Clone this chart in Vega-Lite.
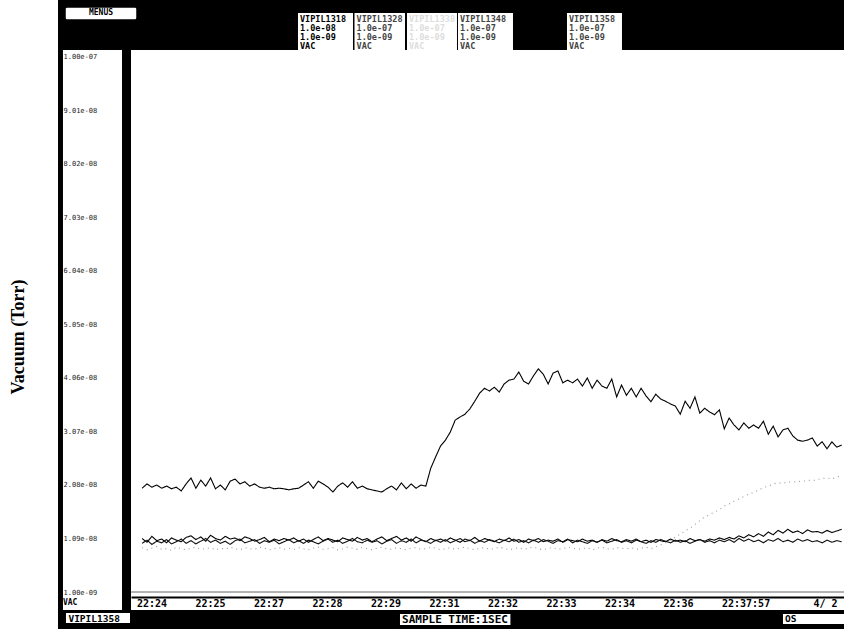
{
  "$schema": "https://vega.github.io/schema/vega-lite/v6.json",
  "width": 713,
  "height": 546,
  "autosize": "none",
  "padding": {"left": 131, "top": 50, "right": 0, "bottom": 33},
  "background": "white",
  "config": {"view": {"stroke": null}, "axis": {"grid": false}},
  "datasets": {
    "traces": [
      {"t":8,"VIPIL1358":2.02e-8,"VIPIL1318":1.09e-8,"VIPIL1328":1.00e-8,"VIPIL1348":9.2e-9},
      {"t":15,"VIPIL1358":2.10e-8,"VIPIL1318":1.02e-8,"VIPIL1328":1.06e-8,"VIPIL1348":8.8e-9},
      {"t":22,"VIPIL1358":2.04e-8,"VIPIL1318":1.13e-8,"VIPIL1328":9.8e-9,"VIPIL1348":9.1e-9},
      {"t":29,"VIPIL1358":2.08e-8,"VIPIL1318":1.05e-8,"VIPIL1328":1.04e-8,"VIPIL1348":9.4e-9},
      {"t":36,"VIPIL1358":2.02e-8,"VIPIL1318":1.08e-8,"VIPIL1328":1.01e-8,"VIPIL1348":8.9e-9},
      {"t":43,"VIPIL1358":2.06e-8,"VIPIL1318":1.01e-8,"VIPIL1328":1.07e-8,"VIPIL1348":9.0e-9},
      {"t":50,"VIPIL1358":2.01e-8,"VIPIL1318":1.10e-8,"VIPIL1328":9.9e-9,"VIPIL1348":8.7e-9},
      {"t":57,"VIPIL1358":2.04e-8,"VIPIL1318":1.06e-8,"VIPIL1328":1.03e-8,"VIPIL1348":9.3e-9},
      {"t":64,"VIPIL1358":1.97e-8,"VIPIL1318":1.03e-8,"VIPIL1328":1.08e-8,"VIPIL1348":9.0e-9},
      {"t":71,"VIPIL1358":2.10e-8,"VIPIL1318":1.11e-8,"VIPIL1328":1.00e-8,"VIPIL1348":8.8e-9},
      {"t":78,"VIPIL1358":2.21e-8,"VIPIL1318":1.14e-8,"VIPIL1328":1.05e-8,"VIPIL1348":9.1e-9},
      {"t":85,"VIPIL1358":2.02e-8,"VIPIL1318":1.07e-8,"VIPIL1328":9.9e-9,"VIPIL1348":9.3e-9},
      {"t":92,"VIPIL1358":2.17e-8,"VIPIL1318":1.12e-8,"VIPIL1328":1.04e-8,"VIPIL1348":8.9e-9},
      {"t":99,"VIPIL1358":2.06e-8,"VIPIL1318":1.04e-8,"VIPIL1328":1.09e-8,"VIPIL1348":9.0e-9},
      {"t":106,"VIPIL1358":2.21e-8,"VIPIL1318":1.15e-8,"VIPIL1328":1.02e-8,"VIPIL1348":9.2e-9},
      {"t":113,"VIPIL1358":2.01e-8,"VIPIL1318":1.09e-8,"VIPIL1328":1.06e-8,"VIPIL1348":8.8e-9},
      {"t":120,"VIPIL1358":2.08e-8,"VIPIL1318":1.06e-8,"VIPIL1328":1.00e-8,"VIPIL1348":9.1e-9},
      {"t":127,"VIPIL1358":1.99e-8,"VIPIL1318":1.13e-8,"VIPIL1328":1.04e-8,"VIPIL1348":8.9e-9},
      {"t":134,"VIPIL1358":2.15e-8,"VIPIL1318":1.08e-8,"VIPIL1328":9.8e-9,"VIPIL1348":9.3e-9},
      {"t":141,"VIPIL1358":2.19e-8,"VIPIL1318":1.10e-8,"VIPIL1328":1.05e-8,"VIPIL1348":9.0e-9},
      {"t":148,"VIPIL1358":2.10e-8,"VIPIL1318":1.05e-8,"VIPIL1328":1.08e-8,"VIPIL1348":8.8e-9},
      {"t":155,"VIPIL1358":2.14e-8,"VIPIL1318":1.12e-8,"VIPIL1328":1.01e-8,"VIPIL1348":9.2e-9},
      {"t":162,"VIPIL1358":2.06e-8,"VIPIL1318":1.09e-8,"VIPIL1328":1.04e-8,"VIPIL1348":9.0e-9},
      {"t":169,"VIPIL1358":2.10e-8,"VIPIL1318":1.04e-8,"VIPIL1328":1.07e-8,"VIPIL1348":8.9e-9},
      {"t":176,"VIPIL1358":2.04e-8,"VIPIL1318":1.07e-8,"VIPIL1328":1.00e-8,"VIPIL1348":9.3e-9},
      {"t":183,"VIPIL1358":2.02e-8,"VIPIL1318":1.11e-8,"VIPIL1328":1.05e-8,"VIPIL1348":9.1e-9},
      {"t":190,"VIPIL1358":2.04e-8,"VIPIL1318":1.03e-8,"VIPIL1328":1.02e-8,"VIPIL1348":8.8e-9},
      {"t":197,"VIPIL1358":2.01e-8,"VIPIL1318":1.08e-8,"VIPIL1328":1.06e-8,"VIPIL1348":9.0e-9},
      {"t":204,"VIPIL1358":2.02e-8,"VIPIL1318":1.05e-8,"VIPIL1328":9.9e-9,"VIPIL1348":9.2e-9},
      {"t":211,"VIPIL1358":2.01e-8,"VIPIL1318":1.09e-8,"VIPIL1328":1.03e-8,"VIPIL1348":8.9e-9},
      {"t":218,"VIPIL1358":1.99e-8,"VIPIL1318":1.06e-8,"VIPIL1328":1.07e-8,"VIPIL1348":9.1e-9},
      {"t":225,"VIPIL1358":2.01e-8,"VIPIL1318":1.10e-8,"VIPIL1328":1.01e-8,"VIPIL1348":8.9e-9},
      {"t":232,"VIPIL1358":2.02e-8,"VIPIL1318":1.04e-8,"VIPIL1328":1.05e-8,"VIPIL1348":9.2e-9},
      {"t":239,"VIPIL1358":2.08e-8,"VIPIL1318":1.08e-8,"VIPIL1328":1.00e-8,"VIPIL1348":9.0e-9},
      {"t":246,"VIPIL1358":2.14e-8,"VIPIL1318":1.02e-8,"VIPIL1328":1.06e-8,"VIPIL1348":8.8e-9},
      {"t":253,"VIPIL1358":2.02e-8,"VIPIL1318":1.07e-8,"VIPIL1328":1.03e-8,"VIPIL1348":9.1e-9},
      {"t":260,"VIPIL1358":2.15e-8,"VIPIL1318":1.12e-8,"VIPIL1328":9.9e-9,"VIPIL1348":9.3e-9},
      {"t":267,"VIPIL1358":2.10e-8,"VIPIL1318":1.05e-8,"VIPIL1328":1.04e-8,"VIPIL1348":8.9e-9},
      {"t":274,"VIPIL1358":2.04e-8,"VIPIL1318":1.09e-8,"VIPIL1328":1.08e-8,"VIPIL1348":9.0e-9},
      {"t":281,"VIPIL1358":1.95e-8,"VIPIL1318":1.06e-8,"VIPIL1328":1.02e-8,"VIPIL1348":9.2e-9},
      {"t":288,"VIPIL1358":2.06e-8,"VIPIL1318":1.03e-8,"VIPIL1328":1.06e-8,"VIPIL1348":8.8e-9},
      {"t":295,"VIPIL1358":2.12e-8,"VIPIL1318":1.10e-8,"VIPIL1328":1.00e-8,"VIPIL1348":9.0e-9},
      {"t":302,"VIPIL1358":2.04e-8,"VIPIL1318":1.07e-8,"VIPIL1328":1.04e-8,"VIPIL1348":9.3e-9},
      {"t":309,"VIPIL1358":2.14e-8,"VIPIL1318":1.04e-8,"VIPIL1328":1.09e-8,"VIPIL1348":9.1e-9},
      {"t":316,"VIPIL1358":2.02e-8,"VIPIL1318":1.11e-8,"VIPIL1328":1.03e-8,"VIPIL1348":8.9e-9},
      {"t":323,"VIPIL1358":2.06e-8,"VIPIL1318":1.06e-8,"VIPIL1328":1.01e-8,"VIPIL1348":9.2e-9},
      {"t":330,"VIPIL1358":2.01e-8,"VIPIL1318":1.09e-8,"VIPIL1328":1.06e-8,"VIPIL1348":9.0e-9},
      {"t":337,"VIPIL1358":1.99e-8,"VIPIL1318":1.03e-8,"VIPIL1328":1.02e-8,"VIPIL1348":8.8e-9},
      {"t":344,"VIPIL1358":1.97e-8,"VIPIL1318":1.08e-8,"VIPIL1328":1.05e-8,"VIPIL1348":9.1e-9},
      {"t":351,"VIPIL1358":1.95e-8,"VIPIL1318":1.12e-8,"VIPIL1328":9.9e-9,"VIPIL1348":9.3e-9},
      {"t":358,"VIPIL1358":2.01e-8,"VIPIL1318":1.05e-8,"VIPIL1328":1.04e-8,"VIPIL1348":9.0e-9},
      {"t":365,"VIPIL1358":2.06e-8,"VIPIL1318":1.09e-8,"VIPIL1328":1.07e-8,"VIPIL1348":8.9e-9},
      {"t":372,"VIPIL1358":1.99e-8,"VIPIL1318":1.13e-8,"VIPIL1328":1.00e-8,"VIPIL1348":9.2e-9},
      {"t":379,"VIPIL1358":2.12e-8,"VIPIL1318":1.06e-8,"VIPIL1328":1.05e-8,"VIPIL1348":9.0e-9},
      {"t":386,"VIPIL1358":2.01e-8,"VIPIL1318":1.10e-8,"VIPIL1328":1.02e-8,"VIPIL1348":8.8e-9},
      {"t":393,"VIPIL1358":2.10e-8,"VIPIL1318":1.04e-8,"VIPIL1328":1.08e-8,"VIPIL1348":9.1e-9},
      {"t":400,"VIPIL1358":2.02e-8,"VIPIL1318":1.12e-8,"VIPIL1328":1.01e-8,"VIPIL1348":9.2e-9},
      {"t":407,"VIPIL1358":2.08e-8,"VIPIL1318":1.07e-8,"VIPIL1328":1.06e-8,"VIPIL1348":8.9e-9},
      {"t":414,"VIPIL1358":2.06e-8,"VIPIL1318":1.03e-8,"VIPIL1328":1.04e-8,"VIPIL1348":9.0e-9},
      {"t":421,"VIPIL1358":2.39e-8,"VIPIL1318":1.09e-8,"VIPIL1328":1.00e-8,"VIPIL1348":9.3e-9},
      {"t":428,"VIPIL1358":2.60e-8,"VIPIL1318":1.05e-8,"VIPIL1328":1.06e-8,"VIPIL1348":9.1e-9},
      {"t":435,"VIPIL1358":2.80e-8,"VIPIL1318":1.08e-8,"VIPIL1328":1.02e-8,"VIPIL1348":8.8e-9},
      {"t":442,"VIPIL1358":2.91e-8,"VIPIL1318":1.04e-8,"VIPIL1328":1.07e-8,"VIPIL1348":9.0e-9},
      {"t":449,"VIPIL1358":3.06e-8,"VIPIL1318":1.10e-8,"VIPIL1328":1.01e-8,"VIPIL1348":9.2e-9},
      {"t":456,"VIPIL1358":3.28e-8,"VIPIL1318":1.06e-8,"VIPIL1328":1.05e-8,"VIPIL1348":8.9e-9},
      {"t":463,"VIPIL1358":3.34e-8,"VIPIL1318":1.02e-8,"VIPIL1328":1.09e-8,"VIPIL1348":9.1e-9},
      {"t":470,"VIPIL1358":3.39e-8,"VIPIL1318":1.08e-8,"VIPIL1328":1.03e-8,"VIPIL1348":9.3e-9},
      {"t":477,"VIPIL1358":3.49e-8,"VIPIL1318":1.05e-8,"VIPIL1328":1.06e-8,"VIPIL1348":9.0e-9},
      {"t":484,"VIPIL1358":3.63e-8,"VIPIL1318":1.11e-8,"VIPIL1328":1.00e-8,"VIPIL1348":8.8e-9},
      {"t":491,"VIPIL1358":3.78e-8,"VIPIL1318":1.04e-8,"VIPIL1328":1.05e-8,"VIPIL1348":9.1e-9},
      {"t":498,"VIPIL1358":3.87e-8,"VIPIL1318":1.09e-8,"VIPIL1328":1.02e-8,"VIPIL1348":9.2e-9},
      {"t":505,"VIPIL1358":3.82e-8,"VIPIL1318":1.06e-8,"VIPIL1328":1.07e-8,"VIPIL1348":8.9e-9},
      {"t":512,"VIPIL1358":3.89e-8,"VIPIL1318":1.03e-8,"VIPIL1328":1.04e-8,"VIPIL1348":9.0e-9},
      {"t":519,"VIPIL1358":3.80e-8,"VIPIL1318":1.08e-8,"VIPIL1328":1.01e-8,"VIPIL1348":9.3e-9},
      {"t":526,"VIPIL1358":3.95e-8,"VIPIL1318":1.05e-8,"VIPIL1328":1.06e-8,"VIPIL1348":9.1e-9},
      {"t":533,"VIPIL1358":4.02e-8,"VIPIL1318":1.10e-8,"VIPIL1328":1.03e-8,"VIPIL1348":8.8e-9},
      {"t":540,"VIPIL1358":4.04e-8,"VIPIL1318":1.04e-8,"VIPIL1328":1.08e-8,"VIPIL1348":9.0e-9},
      {"t":547,"VIPIL1358":4.17e-8,"VIPIL1318":1.07e-8,"VIPIL1328":1.02e-8,"VIPIL1348":9.2e-9},
      {"t":554,"VIPIL1358":4.00e-8,"VIPIL1318":1.02e-8,"VIPIL1328":1.05e-8,"VIPIL1348":8.9e-9},
      {"t":561,"VIPIL1358":3.95e-8,"VIPIL1318":1.08e-8,"VIPIL1328":1.01e-8,"VIPIL1348":9.1e-9},
      {"t":568,"VIPIL1358":4.10e-8,"VIPIL1318":1.05e-8,"VIPIL1328":1.06e-8,"VIPIL1348":9.3e-9},
      {"t":575,"VIPIL1358":4.23e-8,"VIPIL1318":1.09e-8,"VIPIL1328":1.02e-8,"VIPIL1348":9.0e-9},
      {"t":582,"VIPIL1358":4.13e-8,"VIPIL1318":1.03e-8,"VIPIL1328":1.07e-8,"VIPIL1348":8.8e-9},
      {"t":589,"VIPIL1358":3.95e-8,"VIPIL1318":1.06e-8,"VIPIL1328":1.04e-8,"VIPIL1348":9.1e-9},
      {"t":596,"VIPIL1358":4.15e-8,"VIPIL1318":1.04e-8,"VIPIL1328":1.00e-8,"VIPIL1348":9.2e-9},
      {"t":603,"VIPIL1358":4.19e-8,"VIPIL1318":1.08e-8,"VIPIL1328":1.05e-8,"VIPIL1348":8.9e-9},
      {"t":610,"VIPIL1358":3.97e-8,"VIPIL1318":1.02e-8,"VIPIL1328":1.03e-8,"VIPIL1348":9.0e-9},
      {"t":617,"VIPIL1358":4.02e-8,"VIPIL1318":1.07e-8,"VIPIL1328":1.08e-8,"VIPIL1348":9.3e-9},
      {"t":624,"VIPIL1358":3.97e-8,"VIPIL1318":1.05e-8,"VIPIL1328":1.01e-8,"VIPIL1348":9.1e-9},
      {"t":631,"VIPIL1358":4.04e-8,"VIPIL1318":1.03e-8,"VIPIL1328":1.06e-8,"VIPIL1348":8.9e-9},
      {"t":638,"VIPIL1358":3.91e-8,"VIPIL1318":1.08e-8,"VIPIL1328":1.03e-8,"VIPIL1348":9.0e-9},
      {"t":645,"VIPIL1358":4.06e-8,"VIPIL1318":1.04e-8,"VIPIL1328":1.00e-8,"VIPIL1348":9.2e-9},
      {"t":652,"VIPIL1358":3.87e-8,"VIPIL1318":1.06e-8,"VIPIL1328":1.05e-8,"VIPIL1348":8.8e-9},
      {"t":659,"VIPIL1358":4.02e-8,"VIPIL1318":1.02e-8,"VIPIL1328":1.02e-8,"VIPIL1348":9.1e-9},
      {"t":666,"VIPIL1358":3.91e-8,"VIPIL1318":1.07e-8,"VIPIL1328":1.06e-8,"VIPIL1348":9.3e-9},
      {"t":673,"VIPIL1358":3.87e-8,"VIPIL1318":1.04e-8,"VIPIL1328":1.01e-8,"VIPIL1348":9.0e-9},
      {"t":680,"VIPIL1358":4.04e-8,"VIPIL1318":1.09e-8,"VIPIL1328":1.04e-8,"VIPIL1348":8.9e-9},
      {"t":687,"VIPIL1358":3.71e-8,"VIPIL1318":1.05e-8,"VIPIL1328":1.07e-8,"VIPIL1348":9.2e-9},
      {"t":694,"VIPIL1358":3.93e-8,"VIPIL1318":1.03e-8,"VIPIL1328":1.02e-8,"VIPIL1348":9.1e-9},
      {"t":701,"VIPIL1358":3.74e-8,"VIPIL1318":1.07e-8,"VIPIL1328":1.05e-8,"VIPIL1348":9.0e-9},
      {"t":708,"VIPIL1358":3.87e-8,"VIPIL1318":1.04e-8,"VIPIL1328":1.01e-8,"VIPIL1348":9.2e-9},
      {"t":715,"VIPIL1358":3.71e-8,"VIPIL1318":1.08e-8,"VIPIL1328":1.06e-8,"VIPIL1348":8.9e-9},
      {"t":722,"VIPIL1358":3.87e-8,"VIPIL1318":1.03e-8,"VIPIL1328":1.03e-8,"VIPIL1348":9.1e-9},
      {"t":729,"VIPIL1358":3.73e-8,"VIPIL1318":1.06e-8,"VIPIL1328":1.00e-8,"VIPIL1348":9.3e-9},
      {"t":736,"VIPIL1358":3.62e-8,"VIPIL1318":1.02e-8,"VIPIL1328":1.05e-8,"VIPIL1348":9.0e-9},
      {"t":743,"VIPIL1358":3.76e-8,"VIPIL1318":1.07e-8,"VIPIL1328":1.02e-8,"VIPIL1348":9.4e-9},
      {"t":750,"VIPIL1358":3.67e-8,"VIPIL1318":1.05e-8,"VIPIL1328":1.07e-8,"VIPIL1348":9.7e-9},
      {"t":757,"VIPIL1358":3.63e-8,"VIPIL1318":1.03e-8,"VIPIL1328":1.04e-8,"VIPIL1348":1.01e-8},
      {"t":764,"VIPIL1358":3.58e-8,"VIPIL1318":1.08e-8,"VIPIL1328":1.01e-8,"VIPIL1348":1.06e-8},
      {"t":771,"VIPIL1358":3.54e-8,"VIPIL1318":1.04e-8,"VIPIL1328":1.06e-8,"VIPIL1348":1.12e-8},
      {"t":778,"VIPIL1358":3.39e-8,"VIPIL1318":1.06e-8,"VIPIL1328":1.02e-8,"VIPIL1348":1.17e-8},
      {"t":785,"VIPIL1358":3.63e-8,"VIPIL1318":1.03e-8,"VIPIL1328":1.05e-8,"VIPIL1348":1.23e-8},
      {"t":792,"VIPIL1358":3.50e-8,"VIPIL1318":1.09e-8,"VIPIL1328":1.00e-8,"VIPIL1348":1.28e-8},
      {"t":799,"VIPIL1358":3.71e-8,"VIPIL1318":1.05e-8,"VIPIL1328":1.04e-8,"VIPIL1348":1.35e-8},
      {"t":806,"VIPIL1358":3.41e-8,"VIPIL1318":1.07e-8,"VIPIL1328":1.07e-8,"VIPIL1348":1.42e-8},
      {"t":813,"VIPIL1358":3.50e-8,"VIPIL1318":1.04e-8,"VIPIL1328":1.02e-8,"VIPIL1348":1.49e-8},
      {"t":820,"VIPIL1358":3.43e-8,"VIPIL1318":1.08e-8,"VIPIL1328":1.05e-8,"VIPIL1348":1.53e-8},
      {"t":827,"VIPIL1358":3.38e-8,"VIPIL1318":1.06e-8,"VIPIL1328":1.01e-8,"VIPIL1348":1.58e-8},
      {"t":834,"VIPIL1358":3.47e-8,"VIPIL1318":1.10e-8,"VIPIL1328":1.06e-8,"VIPIL1348":1.62e-8},
      {"t":841,"VIPIL1358":3.12e-8,"VIPIL1318":1.07e-8,"VIPIL1328":1.03e-8,"VIPIL1348":1.69e-8},
      {"t":848,"VIPIL1358":3.32e-8,"VIPIL1318":1.11e-8,"VIPIL1328":1.07e-8,"VIPIL1348":1.73e-8},
      {"t":855,"VIPIL1358":3.19e-8,"VIPIL1318":1.08e-8,"VIPIL1328":1.02e-8,"VIPIL1348":1.78e-8},
      {"t":862,"VIPIL1358":3.10e-8,"VIPIL1318":1.14e-8,"VIPIL1328":1.09e-8,"VIPIL1348":1.82e-8},
      {"t":869,"VIPIL1358":3.23e-8,"VIPIL1318":1.10e-8,"VIPIL1328":1.04e-8,"VIPIL1348":1.87e-8},
      {"t":876,"VIPIL1358":3.13e-8,"VIPIL1318":1.16e-8,"VIPIL1328":1.08e-8,"VIPIL1348":1.91e-8},
      {"t":883,"VIPIL1358":3.19e-8,"VIPIL1318":1.12e-8,"VIPIL1328":1.03e-8,"VIPIL1348":1.94e-8},
      {"t":890,"VIPIL1358":3.13e-8,"VIPIL1318":1.18e-8,"VIPIL1328":1.06e-8,"VIPIL1348":1.99e-8},
      {"t":897,"VIPIL1358":3.26e-8,"VIPIL1318":1.13e-8,"VIPIL1328":1.01e-8,"VIPIL1348":2.03e-8},
      {"t":904,"VIPIL1358":3.02e-8,"VIPIL1318":1.21e-8,"VIPIL1328":1.07e-8,"VIPIL1348":2.06e-8},
      {"t":911,"VIPIL1358":3.17e-8,"VIPIL1318":1.16e-8,"VIPIL1328":1.04e-8,"VIPIL1348":2.10e-8},
      {"t":918,"VIPIL1358":2.97e-8,"VIPIL1318":1.24e-8,"VIPIL1328":1.09e-8,"VIPIL1348":2.12e-8},
      {"t":925,"VIPIL1358":3.10e-8,"VIPIL1318":1.19e-8,"VIPIL1328":1.03e-8,"VIPIL1348":2.11e-8},
      {"t":932,"VIPIL1358":3.13e-8,"VIPIL1318":1.26e-8,"VIPIL1328":1.06e-8,"VIPIL1348":2.14e-8},
      {"t":939,"VIPIL1358":2.99e-8,"VIPIL1318":1.20e-8,"VIPIL1328":1.02e-8,"VIPIL1348":2.13e-8},
      {"t":946,"VIPIL1358":2.91e-8,"VIPIL1318":1.23e-8,"VIPIL1328":1.08e-8,"VIPIL1348":2.15e-8},
      {"t":953,"VIPIL1358":2.89e-8,"VIPIL1318":1.18e-8,"VIPIL1328":1.04e-8,"VIPIL1348":2.14e-8},
      {"t":960,"VIPIL1358":2.91e-8,"VIPIL1318":1.25e-8,"VIPIL1328":1.07e-8,"VIPIL1348":2.17e-8},
      {"t":967,"VIPIL1358":2.95e-8,"VIPIL1318":1.21e-8,"VIPIL1328":1.03e-8,"VIPIL1348":2.16e-8},
      {"t":974,"VIPIL1358":2.80e-8,"VIPIL1318":1.22e-8,"VIPIL1328":1.05e-8,"VIPIL1348":2.18e-8},
      {"t":981,"VIPIL1358":2.88e-8,"VIPIL1318":1.19e-8,"VIPIL1328":1.01e-8,"VIPIL1348":2.20e-8},
      {"t":988,"VIPIL1358":2.75e-8,"VIPIL1318":1.24e-8,"VIPIL1328":1.06e-8,"VIPIL1348":2.21e-8},
      {"t":995,"VIPIL1358":2.88e-8,"VIPIL1318":1.20e-8,"VIPIL1328":1.02e-8,"VIPIL1348":2.19e-8},
      {"t":1002,"VIPIL1358":2.78e-8,"VIPIL1318":1.23e-8,"VIPIL1328":1.05e-8,"VIPIL1348":2.23e-8},
      {"t":1009,"VIPIL1358":2.82e-8,"VIPIL1318":1.26e-8,"VIPIL1328":1.03e-8,"VIPIL1348":2.24e-8}
    ]
  },
  "layer": [
    {
      "data": {"name": "traces"},
      "transform": [{"fold": ["VIPIL1358", "VIPIL1318", "VIPIL1328", "VIPIL1348"], "as": ["series", "vacuum"]}],
      "mark": {"type": "line", "strokeWidth": 1.1},
      "encoding": {
        "x": {
          "field": "t", "type": "quantitative",
          "scale": {"domain": [-7.87, 1012.3], "nice": false, "zero": false},
          "axis": {
            "orient": "bottom", "title": null, "offset": 1,
            "domain": true, "domainColor": "black", "domainWidth": 2,
            "ticks": false, "labelPadding": 6,
            "values": [0, 83.7, 167.4, 251.1, 334.8, 418.5, 502.2, 585.9, 669.6, 753.3, 837, 968],
            "labelExpr": "datum.value > 900 ? '4/ 2' : ['22:24','22:25','22:27','22:28','22:29','22:31','22:32','22:33','22:34','22:36','22:37:57'][round(datum.value / 83.7)]",
            "labelAlign": "left", "labelBaseline": "middle",
            "labelFont": "DejaVu Sans Mono", "labelFontWeight": "bold", "labelFontSize": 10,
            "labelColor": "black", "labelFlush": false, "labelOverlap": false, "labelBound": false
          }
        },
        "y": {
          "field": "vacuum", "type": "quantitative",
          "scale": {"domain": [2.5981e-10, 1.012953e-7], "nice": false, "zero": false},
          "axis": {
            "title": "Vacuum (Torr)", "titleFont": "Liberation Serif", "titleFontWeight": "bold",
            "titleFontSize": 18, "titleColor": "black", "titleAngle": 270,
            "titleAlign": "center", "titleBaseline": "middle", "titleX": -112.5, "titleY": 286.5,
            "domain": false, "ticks": false, "labelPadding": 68,
            "values": [1e-9, 1.09e-8, 2.08e-8, 3.07e-8, 4.06e-8, 5.05e-8, 6.04e-8, 7.03e-8, 8.02e-8, 9.01e-8, 1e-7],
            "labelExpr": "replace(format(datum.value, '.2e'), 'e-', 'e-0')",
            "labelAlign": "left", "labelBaseline": "middle",
            "labelFont": "DejaVu Sans Mono", "labelFontSize": 7, "labelColor": "#222222",
            "labelFlush": false, "labelOverlap": false, "labelBound": false
          }
        },
        "color": {
          "field": "series", "type": "nominal",
          "scale": {"domain": ["VIPIL1358", "VIPIL1318", "VIPIL1328", "VIPIL1348"], "range": ["#000000", "#000000", "#111111", "#9a9a9a"]},
          "legend": null
        },
        "strokeDash": {
          "field": "series", "type": "nominal",
          "scale": {"domain": ["VIPIL1358", "VIPIL1318", "VIPIL1328", "VIPIL1348"], "range": [[1, 0], [1, 0], [1, 0], [1, 4]]},
          "legend": null
        }
      }
    },
    {
      "data": {"values": [{}]},
      "mark": {"type": "rule", "color": "#666", "strokeWidth": 1},
      "encoding": {"y": {"datum": 1e-9}}
    },
    {
      "data": {"values": [{}]},
      "mark": {"type": "rect", "fill": "black"},
      "encoding": {"x": {"datum": -112.3}, "x2": {"datum": 1020}, "y": {"datum": 1.12e-7}, "y2": {"datum": 1.01295e-7}}
    },
    {
      "data": {"values": [{}]},
      "mark": {"type": "rect", "fill": "black"},
      "encoding": {"x": {"datum": -112.3}, "x2": {"datum": -105.2}, "y": {"datum": 1.12e-7}, "y2": {"datum": -8e-9}}
    },
    {
      "data": {"values": [{}]},
      "mark": {"type": "rect", "fill": "black"},
      "encoding": {"x": {"datum": -112.3}, "x2": {"datum": 1020}, "y": {"datum": -2.331e-9}, "y2": {"datum": -8e-9}}
    },
    {
      "data": {"values": [{}]},
      "mark": {"type": "rect", "fill": "black"},
      "encoding": {"x": {"datum": -20.75}, "x2": {"datum": -7.87}, "y": {"datum": 1.01295e-7}, "y2": {"datum": -2.331e-9}}
    },
    {
      "data": {"values": [{}]},
      "mark": {"type": "rect", "fill": "white", "stroke": "black", "strokeWidth": 1.5, "cornerRadius": 2},
      "encoding": {"x": {"datum": -102.3}, "x2": {"datum": 0.72}, "y": {"datum": 1.0925e-7}, "y2": {"datum": 1.0685e-7}}
    },
    {
      "data": {"values": [{}]},
      "mark": {"type": "rect", "fill": "white"},
      "encoding": {"x": {"datum": 231.07}, "x2": {"datum": 309.76}, "y": {"datum": 1.0814e-7}, "y2": {"datum": 1.01295e-7}}
    },
    {
      "data": {"values": [{}]},
      "mark": {"type": "rect", "fill": "white"},
      "encoding": {"x": {"datum": 311.9}, "x2": {"datum": 384.16}, "y": {"datum": 1.0814e-7}, "y2": {"datum": 1.01295e-7}}
    },
    {
      "data": {"values": [{}]},
      "mark": {"type": "rect", "fill": "white"},
      "encoding": {"x": {"datum": 387.02}, "x2": {"datum": 458.55}, "y": {"datum": 1.0814e-7}, "y2": {"datum": 1.01295e-7}}
    },
    {
      "data": {"values": [{}]},
      "mark": {"type": "rect", "fill": "white"},
      "encoding": {"x": {"datum": 459.98}, "x2": {"datum": 538.68}, "y": {"datum": 1.0814e-7}, "y2": {"datum": 1.01295e-7}}
    },
    {
      "data": {"values": [{}]},
      "mark": {"type": "rect", "fill": "white"},
      "encoding": {"x": {"datum": 615.95}, "x2": {"datum": 694.64}, "y": {"datum": 1.0814e-7}, "y2": {"datum": 1.01295e-7}}
    },
    {
      "data": {"values": [{}]},
      "mark": {"type": "rect", "fill": "white"},
      "encoding": {"x": {"datum": -100.9}, "x2": {"datum": -9.3}, "y": {"datum": -2.886e-9}, "y2": {"datum": -4.7365e-9}}
    },
    {
      "data": {"values": [{}]},
      "mark": {"type": "rect", "fill": "white"},
      "encoding": {"x": {"datum": 377.0}, "x2": {"datum": 535.0}, "y": {"datum": -3.071e-9}, "y2": {"datum": -5.107e-9}}
    },
    {
      "data": {"values": [{}]},
      "mark": {"type": "rect", "fill": "white"},
      "encoding": {"x": {"datum": 925.0}, "x2": {"datum": 1020}, "y": {"datum": -3.071e-9}, "y2": {"datum": -4.9215e-9}}
    },
    {
      "data": {"values": [{}]},
      "mark": {"type": "text", "text": "MENUS", "font": "DejaVu Sans Mono", "fontWeight": "bold", "fontSize": 8, "align": "center", "baseline": "middle", "color": "black"},
      "encoding": {"x": {"datum": -50.8}, "y": {"datum": 1.0805e-7}}
    },
    {
      "data": {"values": [{}]},
      "mark": {"type": "text", "text": ["VIPIL1318", "1.0e-08", "1.0e-09", "VAC"], "font": "DejaVu Sans Mono", "fontWeight": "bold", "fontSize": 8.5, "lineHeight": 9, "align": "left", "baseline": "top", "color": "black"},
      "encoding": {"x": {"datum": 233.9}, "y": {"datum": 1.0777e-7}}
    },
    {
      "data": {"values": [{}]},
      "mark": {"type": "text", "text": ["VIPIL1328", "1.0e-07", "1.0e-09", "VAC"], "font": "DejaVu Sans Mono", "fontWeight": "bold", "fontSize": 8.5, "lineHeight": 9, "align": "left", "baseline": "top", "color": "#444"},
      "encoding": {"x": {"datum": 314.8}, "y": {"datum": 1.0777e-7}}
    },
    {
      "data": {"values": [{}]},
      "mark": {"type": "text", "text": ["VIPIL1338", "1.0e-07", "1.0e-09", "VAC"], "font": "DejaVu Sans Mono", "fontWeight": "bold", "fontSize": 8.5, "lineHeight": 9, "align": "left", "baseline": "top", "color": "#dddddd"},
      "encoding": {"x": {"datum": 389.9}, "y": {"datum": 1.0777e-7}}
    },
    {
      "data": {"values": [{}]},
      "mark": {"type": "text", "text": ["VIPIL1348", "1.0e-07", "1.0e-09", "VAC"], "font": "DejaVu Sans Mono", "fontWeight": "bold", "fontSize": 8.5, "lineHeight": 9, "align": "left", "baseline": "top", "color": "#444"},
      "encoding": {"x": {"datum": 462.8}, "y": {"datum": 1.0777e-7}}
    },
    {
      "data": {"values": [{}]},
      "mark": {"type": "text", "text": ["VIPIL1358", "1.0e-07", "1.0e-09", "VAC"], "font": "DejaVu Sans Mono", "fontWeight": "bold", "fontSize": 8.5, "lineHeight": 9, "align": "left", "baseline": "top", "color": "#444"},
      "encoding": {"x": {"datum": 618.8}, "y": {"datum": 1.0777e-7}}
    },
    {
      "data": {"values": [{}]},
      "mark": {"type": "text", "text": "VAC", "font": "DejaVu Sans Mono", "fontWeight": "bold", "fontSize": 8, "align": "left", "baseline": "middle", "color": "black"},
      "encoding": {"x": {"datum": -105.2}, "y": {"datum": -1.0355e-9}}
    },
    {
      "data": {"values": [{}]},
      "mark": {"type": "text", "text": "VIPIL1358", "font": "DejaVu Sans Mono", "fontWeight": "bold", "fontSize": 9.5, "align": "left", "baseline": "middle", "color": "black"},
      "encoding": {"x": {"datum": -97.4}, "y": {"datum": -3.904e-9}}
    },
    {
      "data": {"values": [{}]},
      "mark": {"type": "text", "text": "SAMPLE TIME:1SEC", "font": "DejaVu Sans Mono", "fontWeight": "bold", "fontSize": 11, "align": "left", "baseline": "middle", "color": "black"},
      "encoding": {"x": {"datum": 379.9}, "y": {"datum": -4.089e-9}}
    },
    {
      "data": {"values": [{}]},
      "mark": {"type": "text", "text": "OS", "font": "DejaVu Sans Mono", "fontWeight": "bold", "fontSize": 9.5, "align": "left", "baseline": "middle", "color": "black"},
      "encoding": {"x": {"datum": 927.9}, "y": {"datum": -3.996e-9}}
    }
  ]
}
